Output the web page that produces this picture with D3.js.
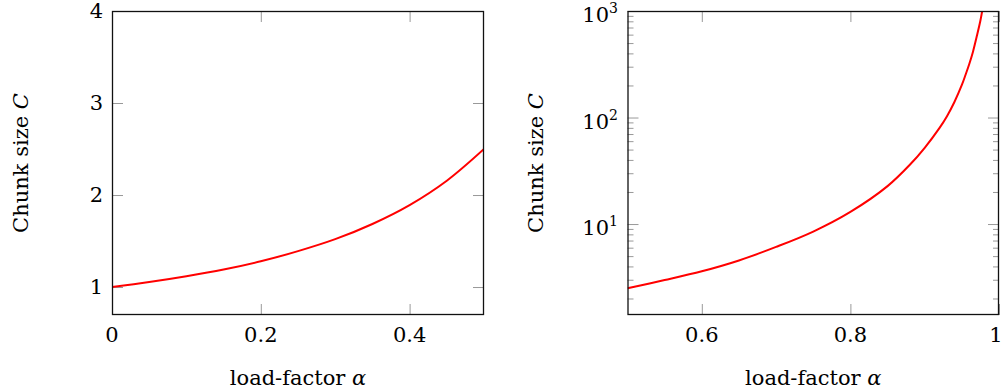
<!DOCTYPE html>
<html>
<head>
<meta charset="utf-8">
<script src="https://cdn.jsdelivr.net/npm/d3@7"></script>
<style>
  body { margin: 0; background: #fff; }
  svg { display: block; }
  text { font-family: "DejaVu Serif", "Liberation Serif", serif; fill: #000; }
</style>
</head>
<body>
<svg id="chart" width="1003" height="392"></svg>
<script>
// values
var alphaLow  = [0, 0.05, 0.1, 0.15, 0.2, 0.25, 0.3, 0.35, 0.4, 0.45, 0.5];
var chunkLow  = [1.00, 1.054, 1.117, 1.19, 1.28, 1.39, 1.52, 1.685, 1.89, 2.155, 2.50];

var alphaHigh = [0.5, 0.55, 0.6, 0.65, 0.7, 0.75, 0.8, 0.85, 0.88, 0.9, 0.92, 0.93, 0.94, 0.95, 0.955, 0.96, 0.965, 0.97, 0.975, 0.978];
var chunkHigh = [2.5, 2.98, 3.6, 4.55, 6.1, 8.5, 13, 22.7, 36, 52, 80, 103, 140, 202, 252, 318, 415, 575, 815, 1060];

var xTicksLow  = [0, 0.2, 0.4];
var yTicksLow  = [1, 2, 3, 4];
var xTicksHigh = [0.6, 0.8, 1];
var yTicksHigh = [10, 100, 1000];
var yMinorHigh = [2, 3, 4, 5, 6, 7, 8, 9, 20, 30, 40, 50, 60, 70, 80, 90, 200, 300, 400, 500, 600, 700, 800, 900];

var xLabel = "load-factor ";
var yLabel = "Chunk size ";

var svg = d3.select("#chart");
var plotTop = 11, plotBottom = 315;
var fontSize = 21;
var tickGray = "#999";

////////////////////////////////////////
// one panel: frame, ticks, labels, curve

function drawPanel(x, y, opts) {
	var g = svg.append("g");
	var x0 = x.range()[0], x1 = x.range()[1];

	g.append("clipPath").attr("id", opts.id + "clip")
		.append("rect")
		.attr("x", x0).attr("y", plotTop)
		.attr("width", x1 - x0).attr("height", plotBottom - plotTop);

	// tick marks on all four sides, pointing inwards
	function ticks(axis, tr, size) {
		var a = g.append("g").attr("transform", tr)
			.call(axis.tickSizeInner(-size).tickSizeOuter(0).tickFormat(""));
		a.select(".domain").remove();
		a.selectAll("line").attr("stroke", tickGray).attr("stroke-width", 1);
		return a;
	}
	ticks(d3.axisBottom(x).tickValues(opts.xTicks), "translate(0," + plotBottom + ")", 11);
	ticks(d3.axisTop(x).tickValues(opts.xTicks), "translate(0," + plotTop + ")", 11);
	ticks(d3.axisLeft(y).tickValues(opts.yTicks), "translate(" + x0 + ",0)", 11);
	ticks(d3.axisRight(y).tickValues(opts.yTicks), "translate(" + x1 + ",0)", 11);
	if (opts.yMinor) {
		ticks(d3.axisLeft(y).tickValues(opts.yMinor), "translate(" + x0 + ",0)", 6);
		ticks(d3.axisRight(y).tickValues(opts.yMinor), "translate(" + x1 + ",0)", 6);
	}

	// x tick labels
	g.selectAll(".xl").data(opts.xTicks).enter().append("text")
		.attr("x", function(d) { return Math.min(x(d), opts.xMaxLabel || 1e9); })
		.attr("y", 342)
		.attr("text-anchor", "middle")
		.style("font-size", fontSize + "px")
		.text(function(d) { return opts.xFmt(d); });

	// y tick labels
	var yl = g.selectAll(".yl").data(opts.yTicks).enter().append("text")
		.attr("x", opts.yLabelX)
		.attr("y", function(d) { return y(d) + 7; })
		.attr("text-anchor", "end")
		.style("font-size", fontSize + "px");
	if (opts.log) {
		yl.attr("y", function(d) { return y(d) + 11; });
		yl.append("tspan").text("10");
		yl.append("tspan")
			.attr("dy", -9)
			.style("font-size", "14px")
			.text(function(d) { return Math.round(Math.log10(d)); });
	} else {
		yl.text(function(d) { return d; });
	}

	// curve
	var line = d3.line()
		.x(function(d, i) { return x(opts.xs[i]); })
		.y(function(d) { return y(d); })
		.curve(d3.curveCatmullRom.alpha(0.5));
	g.append("path")
		.datum(opts.ys)
		.attr("clip-path", "url(#" + opts.id + "clip)")
		.attr("fill", "none")
		.attr("stroke", "#ff0000")
		.attr("stroke-width", 2)
		.attr("d", line);

	// frame
	g.append("rect")
		.attr("x", x0 + 0.5).attr("y", plotTop + 0.5)
		.attr("width", x1 - x0 - 1).attr("height", plotBottom - plotTop - 1)
		.attr("fill", "none")
		.attr("stroke", "#111")
		.attr("stroke-width", 1.3);

	// axis titles
	var xt = g.append("text")
		.attr("x", (x0 + x1) / 2)
		.attr("y", 385)
		.attr("text-anchor", "middle")
		.style("font-size", fontSize + "px");
	xt.append("tspan").text(xLabel);
	xt.append("tspan").style("font-style", "italic").text("α");

	var yt = g.append("text")
		.attr("transform", "translate(" + opts.yTitleX + "," + 163 + ") rotate(-90)")
		.attr("text-anchor", "middle")
		.style("font-size", fontSize + "px");
	yt.append("tspan").text(yLabel);
	yt.append("tspan").style("font-style", "italic").text("C");
}

drawPanel(
	d3.scaleLinear().domain([0, 0.5]).range([112, 484]),
	d3.scaleLinear().domain([0.696, 4]).range([plotBottom, plotTop]),
	{
		id: "low", xs: alphaLow, ys: chunkLow,
		xTicks: xTicksLow, yTicks: yTicksLow,
		xFmt: function(d) { return d === 0 ? "0" : d3.format(".1f")(d); },
		yLabelX: 103, yTitleX: 28, log: false
	}
);

drawPanel(
	d3.scaleLinear().domain([0.5, 1]).range([627.5, 999]),
	d3.scaleLog().domain([1.4, 1000]).range([plotBottom, plotTop]),
	{
		id: "high", xs: alphaHigh, ys: chunkHigh,
		xTicks: xTicksHigh, yTicks: yTicksHigh, yMinor: yMinorHigh,
		xFmt: function(d) { return d === 1 ? "1" : d3.format(".1f")(d); },
		xMaxLabel: 996,
		yLabelX: 618, yTitleX: 543, log: true
	}
);
</script>
</body>
</html>
